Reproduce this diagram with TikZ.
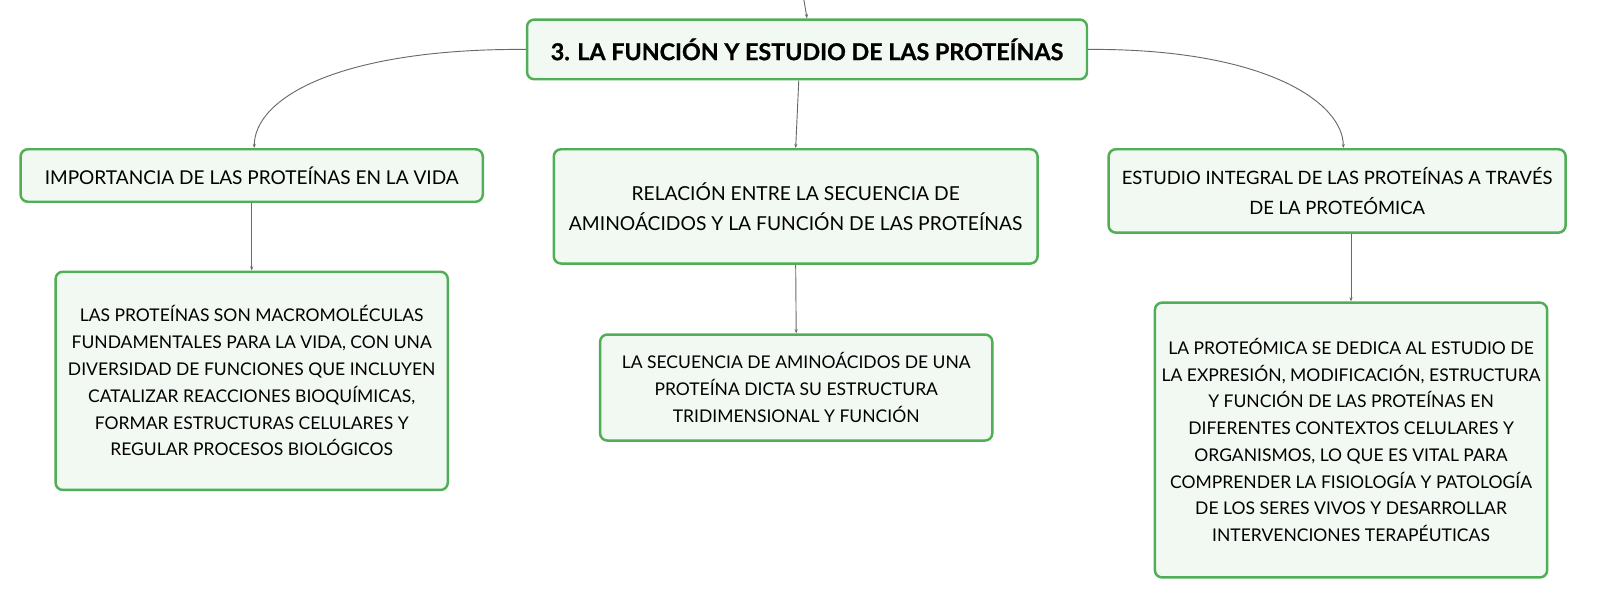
\documentclass[tikz,border=0pt]{standalone}
\usepackage{fontspec}
\setmainfont{Lato}
\usetikzlibrary{arrows.meta}
\definecolor{boxgreen}{RGB}{80,174,86}
\definecolor{boxfill}{RGB}{242,248,242}
\definecolor{conngray}{RGB}{105,105,105}
\tikzset{
  box/.style={draw=boxgreen, fill=boxfill, line width=2.4pt, rounded corners=7pt,
    align=center, inner sep=0pt, text=black,
    font=\fontsize{17}{26}\selectfont},
  topicbox/.style={box, font=\fontsize{18.7}{29}\selectfont},
  titlebox/.style={box, font=\bfseries\addfontfeature{FakeBold=0.8}\fontsize{22.6}{26}\selectfont},
  conn/.style={draw=conngray, line width=0.9pt, -{Stealth[length=4pt,width=3pt]}},
}
\begin{document}
\begin{tikzpicture}[x=1pt,y=-1pt]
\useasboundingbox (0,0) rectangle (1568,582);
\node[titlebox, minimum width=544pt, minimum height=58pt] (main) at (784,48)
  {3. LA FUNCIÓN Y ESTUDIO DE LAS PROTEÍNAS};
\node[topicbox, font=\fontsize{18.5}{29}\selectfont, minimum width=449pt, minimum height=51pt] (b1) at (244.5,170.5)
  {IMPORTANCIA DE LAS PROTEÍNAS EN LA VIDA};
\node[topicbox, minimum width=470pt, minimum height=111pt] (b2) at (773,200.5)
  {RELACIÓN ENTRE LA SECUENCIA DE\\AMINOÁCIDOS Y LA FUNCIÓN DE LAS PROTEÍNAS};
\node[topicbox, font=\fontsize{17.9}{29}\selectfont, minimum width=444pt, minimum height=81pt] (b3) at (1299,185.5)
  {ESTUDIO INTEGRAL DE LAS PROTEÍNAS A TRAVÉS\\DE LA PROTEÓMICA};
\node[box, minimum width=381pt, minimum height=212pt] (b4) at (244.5,370)
  {LAS PROTEÍNAS SON MACROMOLÉCULAS\\FUNDAMENTALES PARA LA VIDA, CON UNA\\DIVERSIDAD DE FUNCIONES QUE INCLUYEN\\CATALIZAR REACCIONES BIOQUÍMICAS,\\FORMAR ESTRUCTURAS CELULARES Y\\REGULAR PROCESOS BIOLÓGICOS};
\node[box, minimum width=381pt, minimum height=103pt] (b5) at (773.5,376.5)
  {LA SECUENCIA DE AMINOÁCIDOS DE UNA\\PROTEÍNA DICTA SU ESTRUCTURA\\TRIDIMENSIONAL Y FUNCIÓN};
\node[box, minimum width=381pt, minimum height=267pt] (b6) at (1312.5,427.5)
  {LA PROTEÓMICA SE DEDICA AL ESTUDIO DE\\LA EXPRESIÓN, MODIFICACIÓN, ESTRUCTURA\\Y FUNCIÓN DE LAS PROTEÍNAS EN\\DIFERENTES CONTEXTOS CELULARES Y\\ORGANISMOS, LO QUE ES VITAL PARA\\COMPRENDER LA FISIOLOGÍA Y PATOLOGÍA\\DE LOS SERES VIVOS Y DESARROLLAR\\INTERVENCIONES TERAPÉUTICAS};
\coordinate (topend) at (781,0);
\draw[conn] (topend) -- (main.north);
\draw[conn] (main.west) .. controls (330,47) and (247,95) .. ([xshift=2.5pt]b1.north);
\draw[conn] ([xshift=-8pt]main.south) -- (b2.north);
\draw[conn] (main.east) .. controls (1230,47) and (1305,100) .. ([xshift=6pt]b3.north);
\draw[conn] (b1.south) -- (b4.north);
\draw[conn] (b2.south) -- (b5.north);
\draw[conn] (b3.south -| b6.north) -- (b6.north);
\end{tikzpicture}
\end{document}
